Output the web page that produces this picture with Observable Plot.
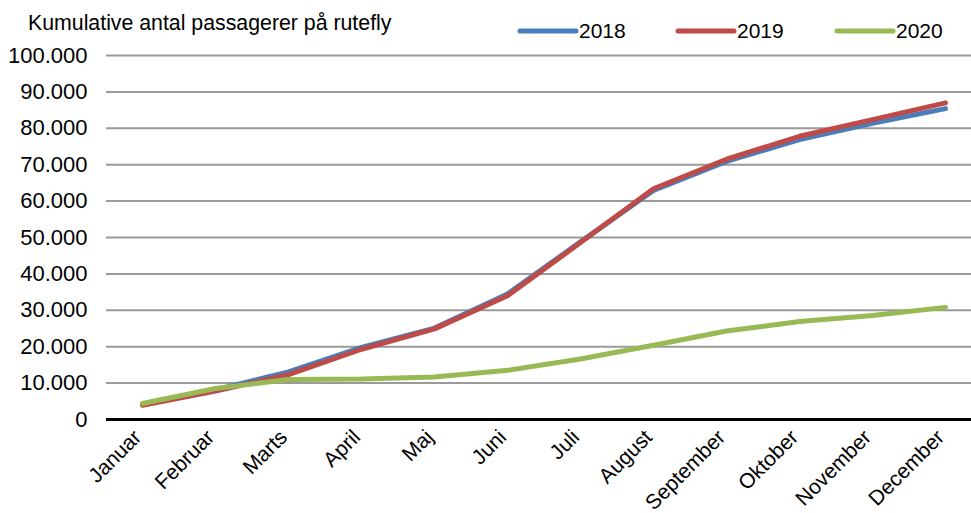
<!DOCTYPE html>
<html>
<head>
<meta charset="utf-8">
<script src="https://cdn.jsdelivr.net/npm/d3@7"></script>
<script src="https://cdn.jsdelivr.net/npm/@observablehq/plot@0.6"></script>
<style>
  html, body { margin: 0; padding: 0; background: #fff; }
  body { width: 971px; height: 513px; overflow: hidden; font-family: "Liberation Sans", Arial, sans-serif; }
  #header { position: relative; width: 971px; height: 43px; }
  #header svg, #chart svg { display: block; }
</style>
</head>
<body>
<div id="header"></div>
<div id="chart"></div>
<script>
const title = "Kumulative antal passagerer på rutefly";
const months = ["Januar","Februar","Marts","April","Maj","Juni","Juli","August","September","Oktober","November","December"];
const series = ["2018", "2019", "2020"];
const colors = ["#4A7EBB", "#BE4B48", "#98B954"];
const values2018 = [4100, 8100, 13100, 19800, 25100, 34500, 48800, 62900, 70900, 76900, 81400, 85400];
const values2019 = [3900, 7800, 12300, 19300, 24900, 34000, 48600, 63400, 71500, 77800, 82400, 87000];
const values2020 = [4400, 8500, 11000, 11100, 11700, 13500, 16600, 20400, 24300, 26900, 28600, 30800];
const yTicks = [0, 10000, 20000, 30000, 40000, 50000, 60000, 70000, 80000, 90000, 100000];

const allValues = [values2018, values2019, values2020];
const data = [];
series.forEach((s, i) => months.forEach((m, j) => data.push({series: s, month: m, value: allValues[i][j]})));

const fmt = d => d === 0 ? "0" : d3.format(",")(d).replace(/,/g, ".");
const font = "'Liberation Sans', Arial, sans-serif";

// Header: title + legend
const hdr = d3.select("#header").append("svg").attr("width", 971).attr("height", 43)
  .style("font-family", font);
hdr.append("text").attr("x", 28).attr("y", 30).attr("font-size", 21.3).attr("fill", "#000").text(title);
const legendX = [520, 678, 837];
series.forEach((s, i) => {
  hdr.append("line").attr("x1", legendX[i]).attr("x2", legendX[i] + 56).attr("y1", 31).attr("y2", 31)
    .attr("stroke", colors[i]).attr("stroke-width", 5).attr("stroke-linecap", "round");
  hdr.append("text").attr("x", legendX[i] + 59).attr("y", 38).attr("font-size", 21).attr("fill", "#000").text(s);
});

const chart = Plot.plot({
  width: 971,
  height: 470,
  marginTop: 12,
  marginBottom: 94,
  marginLeft: 106,
  marginRight: 0,
  style: {fontFamily: font, color: "#000", background: "#fff"},
  x: {type: "point", domain: months, range: [142, 945], padding: 0, axis: null},
  y: {domain: [0, 100000], ticks: yTicks, tickFormat: fmt},
  color: {domain: series, range: colors},
  marks: [
    Plot.ruleY(yTicks.filter(d => d > 0), {stroke: "#9a9a9a", strokeWidth: 2, strokeOpacity: 1}),
    Plot.axisY({ticks: yTicks, tickFormat: fmt, tickSize: 0, tickPadding: 19, fontSize: 22, label: null}),
    Plot.ruleY([0], {stroke: "#000", strokeWidth: 3}),
    Plot.text(months, {x: d => d, frameAnchor: "bottom", dy: 19, rotate: -45, textAnchor: "end", fontSize: 21, fill: "#000", text: d => d}),
    Plot.line(data, {x: "month", y: "value", z: "series", stroke: "series", strokeWidth: 5, strokeLinecap: "round", strokeLinejoin: "round"})
  ]
});
document.getElementById("chart").appendChild(chart);
</script>
</body>
</html>
